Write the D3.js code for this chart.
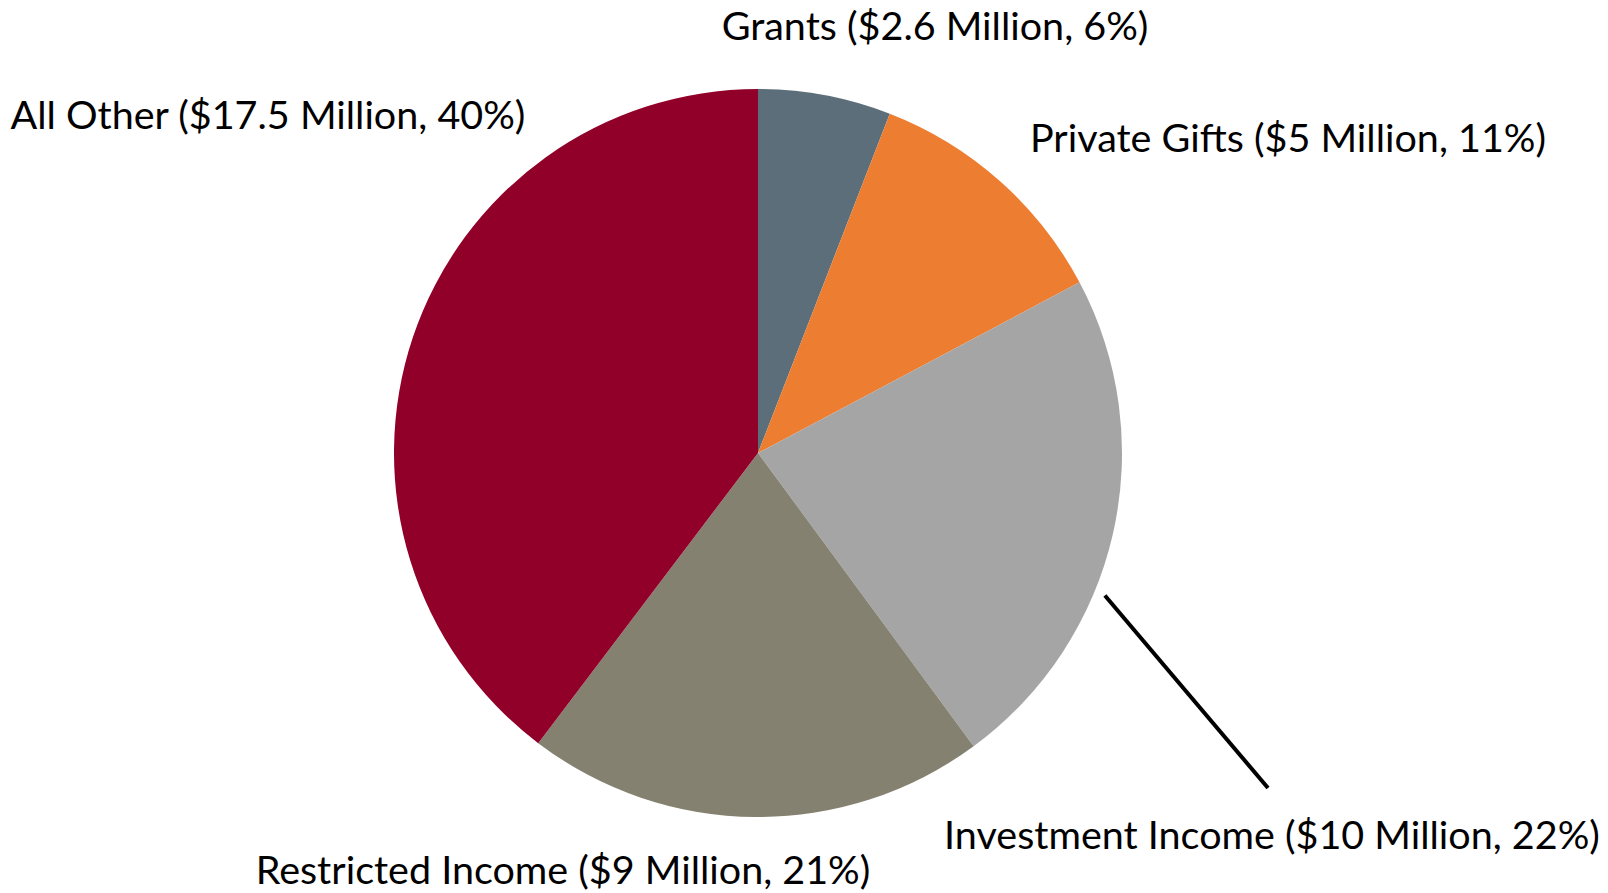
<!DOCTYPE html>
<html>
<head>
<meta charset="utf-8">
<script src="https://cdn.jsdelivr.net/npm/d3@7"></script>
<style>
  html, body { margin: 0; padding: 0; background: #ffffff; }
  svg { display: block; }
  text { font-family: Lato, "Open Sans", sans-serif; fill: #000; }
</style>
</head>
<body>
<svg id="chart" width="1608" height="893"></svg>
<script>
// Revenue sources, clockwise from 12 o'clock
const categories = ["Grants", "Private Gifts", "Investment Income", "Restricted Income", "All Other"];
const amounts = [2.6, 5, 10, 9, 17.5];          // $ million
const percentLabels = ["6%", "11%", "22%", "21%", "40%"];
const amountLabels = ["$2.6 Million", "$5 Million", "$10 Million", "$9 Million", "$17.5 Million"];
const colors = ["#5b6e7a", "#ed7d31", "#a5a5a5", "#858170", "#910029"];

const width = 1608, height = 893;
const cx = 758, cy = 453, radius = 364;

// label placement (text centre x, baseline y)
const labelPos = [
  [935, 40],
  [1288, 152],
  [1272, 849],
  [563, 884],
  [268, 129]
];

const svg = d3.select("#chart");
const g = svg.append("g").attr("transform", `translate(${cx},${cy})`);

const data = categories.map((c, i) => ({
  name: c, value: amounts[i], color: colors[i],
  label: `${c} (${amountLabels[i]}, ${percentLabels[i]})`,
  pos: labelPos[i]
}));

const pie = d3.pie().value(d => d.value).sort(null);
const arc = d3.arc().innerRadius(0).outerRadius(radius);
const arcs = pie(data);

g.selectAll("path.slice")
  .data(arcs)
  .join("path")
  .attr("class", "slice")
  .attr("d", arc)
  .attr("fill", d => d.data.color);

// leader line for the Investment Income label
const inv = arcs[2];
const leaderAngle = inv.startAngle + (inv.endAngle - inv.startAngle) * 0.616;
const lineStart = d3.pointRadial(leaderAngle, radius + 11);
svg.append("line")
  .attr("x1", cx + lineStart[0]).attr("y1", cy + lineStart[1])
  .attr("x2", 1268).attr("y2", 788)
  .attr("stroke", "#000")
  .attr("stroke-width", 4);

svg.selectAll("text.label")
  .data(data)
  .join("text")
  .attr("class", "label")
  .attr("x", d => d.pos[0])
  .attr("y", d => d.pos[1])
  .attr("text-anchor", "middle")
  .attr("font-size", 39.5)
  .text(d => d.label);
</script>
</body>
</html>
